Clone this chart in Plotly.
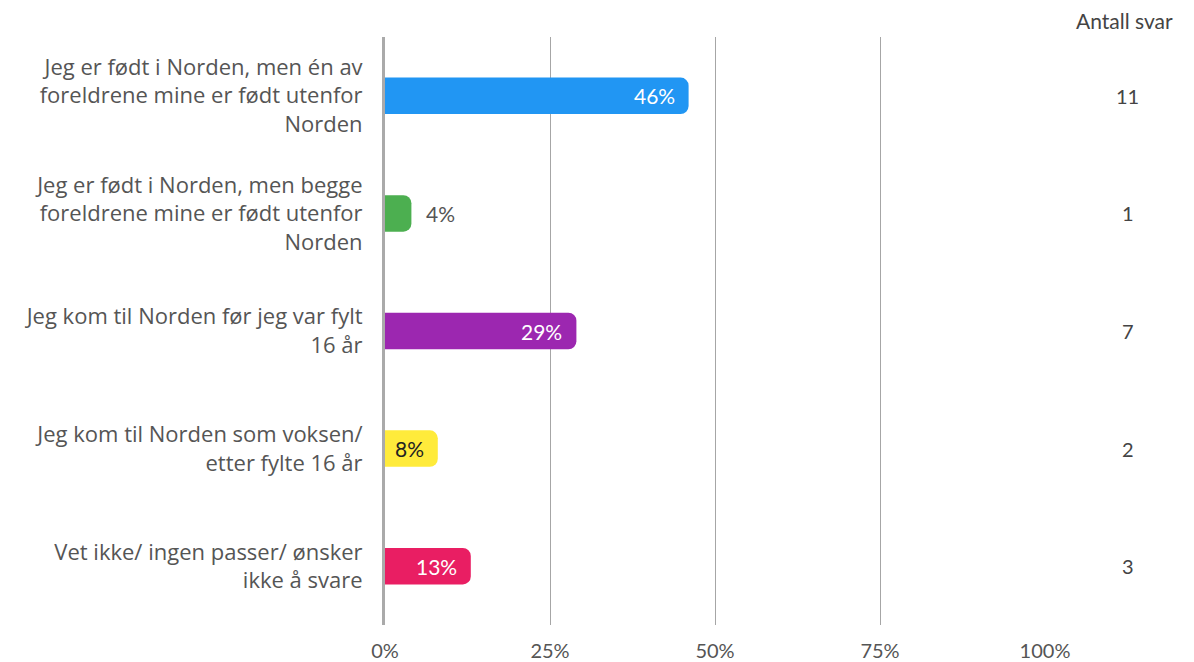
import plotly.graph_objects as go

categories = [
    "Jeg er født i Norden, men én av<br>foreldrene mine er født utenfor<br>Norden",
    "Jeg er født i Norden, men begge<br>foreldrene mine er født utenfor<br>Norden",
    "Jeg kom til Norden før jeg var fylt<br>16 år",
    "Jeg kom til Norden som voksen/<br>etter fylte 16 år",
    "Vet ikke/ ingen passer/ ønsker<br>ikke å svare",
]
percent = [46, 4, 29, 8, 13]
counts = [11, 1, 7, 2, 3]
bar_colors = ["#2196F3", "#4CAF50", "#9C27B0", "#FFEB3B", "#E91E63"]
text_colors = ["white", "#555555", "white", "#222222", "white"]
text_inside = [True, False, True, True, True]

FONT = "Lato, 'Open Sans', sans-serif"

fig = go.Figure(go.Bar(
    x=percent,
    y=categories,
    orientation="h",
    marker=dict(color=bar_colors, cornerradius=8, line=dict(width=0)),
    width=0.31,
    hoverinfo="x+y",
))

# value labels (inside near the bar end, or just outside for short bars)
for cat, p, col, inside in zip(categories, percent, text_colors, text_inside):
    fig.add_annotation(x=p, y=cat, xref="x", yref="y", text=f"{p}%",
                       showarrow=False,
                       xanchor="right" if inside else "left",
                       xshift=-12 if inside else 13,
                       font=dict(family=FONT, size=21, color=col))

# antall svar column
for cat, n in zip(categories, counts):
    fig.add_annotation(x=1.125, y=cat, xref="paper", yref="y", text=str(n),
                       showarrow=False, xanchor="center",
                       font=dict(family=FONT, size=20, color="#444444"))
fig.add_annotation(x=1.12, y=1, xref="paper", yref="paper", yshift=2,
                   xanchor="center", yanchor="bottom",
                   text="Antall svar", showarrow=False,
                   font=dict(family=FONT, size=21, color="#444444"))

fig.update_layout(
    width=1194, height=662,
    margin=dict(l=385, r=149, t=37, b=37),
    plot_bgcolor="white", paper_bgcolor="white",
    showlegend=False,
    font=dict(family=FONT, size=19, color="#555555"),
    xaxis=dict(range=[0, 100], tickvals=[0, 25, 50, 75, 100],
               ticktext=["0%", "25%", "50%", "75%", "100%"],
               showgrid=True, gridcolor="#a6a6a6", gridwidth=1,
               zeroline=False, showline=False, ticks="",
               ticklabelstandoff=12, automargin=False,
               tickfont=dict(size=20, color="#555555")),
    yaxis=dict(autorange="reversed", showgrid=False, zeroline=False,
               showline=True, linecolor="#aaaaaa", linewidth=3,
               ticks="", ticklabelstandoff=15, automargin=False,
               tickfont=dict(family="'Open Sans', sans-serif", size=22, color="#555555")),
)

fig.write_html("out.html", config={"displayModeBar": False},
               post_script="document.body.style.margin='0';document.body.style.overflow='hidden';")
